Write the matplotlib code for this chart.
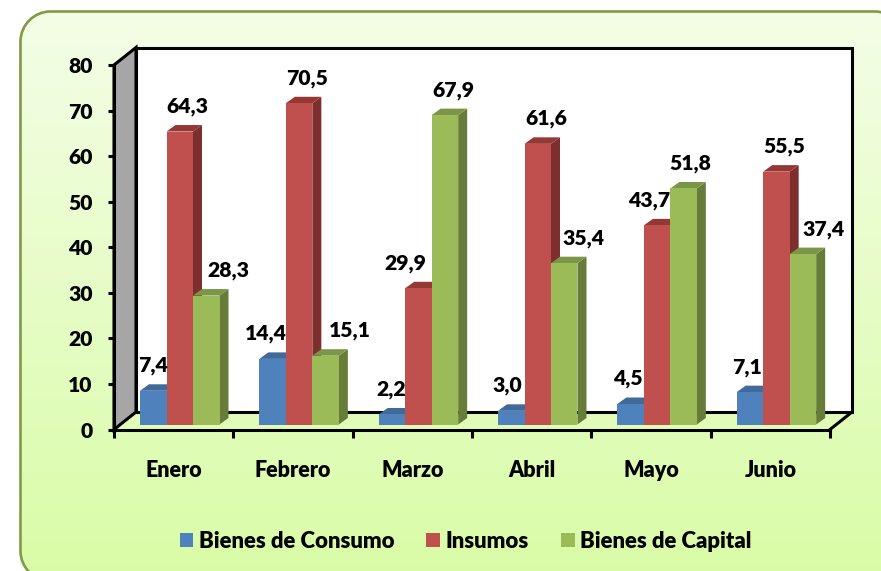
import numpy as np
import matplotlib
matplotlib.use('Agg')
import matplotlib.pyplot as plt
from matplotlib.patches import PathPatch, Patch, Polygon
from matplotlib.path import Path

months = ['Enero', 'Febrero', 'Marzo', 'Abril', 'Mayo', 'Junio']
consumo = [7.4, 14.4, 2.2, 3.0, 4.5, 7.1]
insumos = [64.3, 70.5, 29.9, 61.6, 43.7, 55.5]
capital = [28.3, 15.1, 67.9, 35.4, 51.8, 37.4]
series_names = ['Bienes de Consumo', 'Insumos', 'Bienes de Capital']
yticks = [0, 10, 20, 30, 40, 50, 60, 70, 80]

# horizontal shift of each value label from the middle of its bar, in pixels
label_shift_consumo = [0, -7, -1, -4, -3, -3]
label_shift_insumos = [8, 8, -13, 9, -8, 8]
label_shift_capital = [22, 24, 8, 19, 7, 21]

colors = [('#4f81bd', '#3a5f8c', '#41699a'),
          ('#c0504d', '#7d2f2d', '#953735'),
          ('#9bbb59', '#667d3a', '#7c9647')]

W, H = 881, 571
plt.rcParams['font.family'] = ['Lato', 'DejaVu Sans']
FS = 15.2
WEIGHT = 800

fig = plt.figure(figsize=(W / 100, H / 100), dpi=100)


def rounded_box(l, t, r, b, rad):
    k = rad * 0.45
    verts = [(l + rad, t), (r - rad, t), (r - k, t), (r, t + k), (r, t + rad),
             (r, b - rad), (r, b - k), (r - k, b), (r - rad, b),
             (l + rad, b), (l + k, b), (l, b - k), (l, b - rad),
             (l, t + rad), (l, t + k), (l + k, t), (l + rad, t)]
    codes = [Path.MOVETO, Path.LINETO, Path.CURVE4, Path.CURVE4, Path.CURVE4,
             Path.LINETO, Path.CURVE4, Path.CURVE4, Path.CURVE4,
             Path.LINETO, Path.CURVE4, Path.CURVE4, Path.CURVE4,
             Path.LINETO, Path.CURVE4, Path.CURVE4, Path.CURVE4]
    # flatten the curves, agg clips curved strokes badly at the canvas edge
    return Path(Path(verts, codes).to_polygons(closed_only=False)[0])


# rounded green background
bg = fig.add_axes([0, 0, 1, 1])
bg.axis('off')
grad = np.linspace(0, 1, 256).reshape(-1, 1)
top = np.array([0.955, 0.995, 0.905])
bot = np.array([0.850, 0.988, 0.650])
img = bg.imshow(top + (bot - top) * grad[..., None], extent=[20, 905, 585, 11],
                aspect='auto', zorder=1)
bg.set_xlim(0, W)
bg.set_ylim(H, 0)
box = PathPatch(rounded_box(20.5, 11.5, 905, 581, 30), fc='none', ec='#7f9b45', lw=1.9, zorder=2)
bg.add_patch(box)
img.set_clip_path(box)

# front plane of the 3D box
x0, x1, y0, y1 = 114, 830, 429.5, 65
ax = fig.add_axes([x0 / W, 1 - y0 / H, (x1 - x0) / W, (y0 - y1) / H])
ax.patch.set_alpha(0)
ax.set_xlim(0, 6)
ax.set_ylim(0, 80)
px_x = 6 / (x1 - x0)
px_y = 80 / (y0 - y1)

wall_dx, wall_dy = 22 * px_x, 17.5 * px_y
edge = dict(ec='black', lw=2.2, clip_on=False, joinstyle='miter')
ax.add_patch(Polygon([(wall_dx, wall_dy), (6 + wall_dx, wall_dy), (6 + wall_dx, 80 + wall_dy),
                      (wall_dx, 80 + wall_dy)], fc='white', zorder=1, **edge))
ax.add_patch(Polygon([(0, 0), (wall_dx, wall_dy), (wall_dx, 80 + wall_dy), (0, 80)],
                     fc='#a6a6a6', zorder=1.1, **edge))
ax.plot([6, 6 + wall_dx], [0, wall_dy], color='black', lw=2.2, clip_on=False, zorder=1.2)

# bars
bar_w = 26.5 * px_x
first = 26 * px_x
base = 5 * px_y
dx, dy = 9 * px_x, 6.5 * px_y
shifts = [label_shift_consumo, label_shift_insumos, label_shift_capital]
z = 2
for i in range(len(months)):
    for j, vals in enumerate([consumo, insumos, capital]):
        front, side, cap = colors[j]
        left = i + first + j * bar_w
        right = left + bar_w
        t = base + vals[i]
        ax.add_patch(Polygon([(right, base), (right + dx, base + dy), (right + dx, t + dy), (right, t)],
                             fc=side, ec='none', zorder=z, clip_on=False))
        ax.add_patch(Polygon([(left, t), (left + dx, t + dy), (right + dx, t + dy), (right, t)],
                             fc=cap, ec='none', zorder=z, clip_on=False))
        ax.bar(left + bar_w / 2, vals[i], bar_w, bottom=base, color=front, zorder=z + 0.5)
        ax.annotate(f'{vals[i]:.1f}'.replace('.', ','), (left + bar_w / 2, t),
                    xytext=(shifts[j][i] * 0.72, 25 * 0.72), textcoords='offset points',
                    ha='center', va='center', fontsize=FS, fontweight=WEIGHT, zorder=50,
                    annotation_clip=False)
        z += 1

for s in ['top', 'right']:
    ax.spines[s].set_visible(False)
for s in ['left', 'bottom']:
    ax.spines[s].set_linewidth(2.2)
    ax.spines[s].set_zorder(40)

ax.set_yticks(yticks)
ax.set_yticklabels([str(v) for v in yticks], fontweight=WEIGHT, fontsize=FS)
ax.set_xticks(range(7))
ax.set_xticklabels([])
ax.set_xticks(np.arange(6) + 0.5, months, minor=True, fontweight=WEIGHT, fontsize=FS + 0.3)
ax.tick_params(axis='y', length=4.5, width=2.2, pad=11)
ax.tick_params(axis='x', which='major', length=5.5, width=2.2)
ax.tick_params(axis='x', which='minor', length=0, pad=22)

handles = [Patch(fc=colors[k][0], label=series_names[k]) for k in range(3)]
fig.legend(handles=handles, loc='center', bbox_to_anchor=(465.5 / W, 1 - 541.5 / H), ncol=3, frameon=False,
           handlelength=0.62, handleheight=0.62, handletextpad=0.25, columnspacing=1.45,
           prop={'weight': WEIGHT, 'size': 15.9})

fig.savefig('out.png', dpi=100)
